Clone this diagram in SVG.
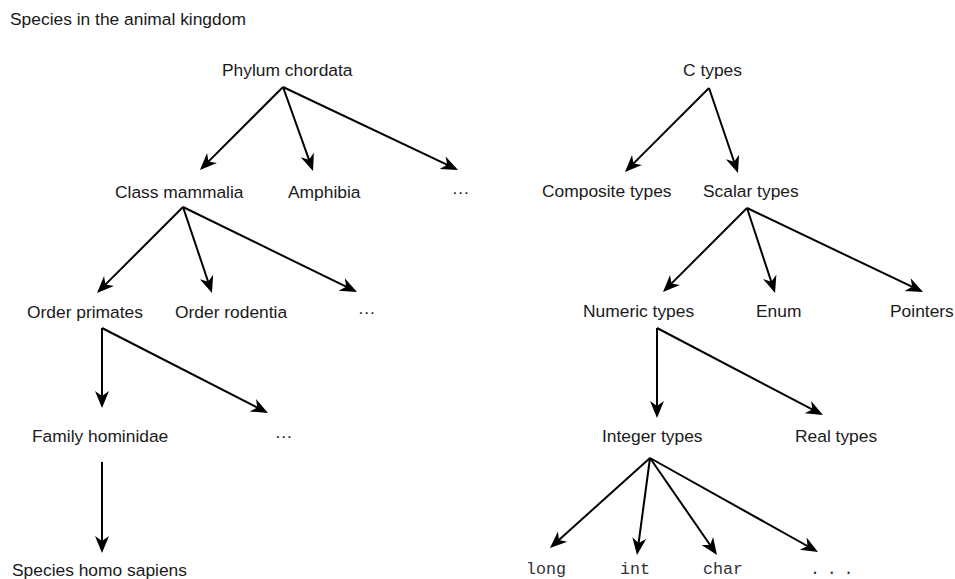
<svg xmlns="http://www.w3.org/2000/svg" width="955" height="579" viewBox="0 0 955 579">
<style>
  text { font-family: "Liberation Sans", Arial, Helvetica, sans-serif; font-size: 17.4px; fill: #1a1a1a; }
  text.mono { font-family: "Liberation Mono", "Courier New", monospace; font-size: 16.7px; fill: #333; }
  .edge { stroke: #000; stroke-width: 2; fill: none; marker-end: url(#ah); }
</style>
<defs>
  <marker id="ah" markerUnits="userSpaceOnUse" viewBox="-15 -8 19 16" refX="0" refY="0" markerWidth="19" markerHeight="16" orient="auto" overflow="visible">
    <path d="M3,0 L-14,-7 L-9,0 L-14,7 Z" fill="#000"/>
  </marker>
</defs>
<rect width="955" height="579" fill="#fff"/>
<text id="title" x="10" y="25">Species in the animal kingdom</text>

<g id="connectors">
  <line class="edge" x1="283" y1="87" x2="202.1" y2="167.9"/>
  <line class="edge" x1="283" y1="87" x2="312.0" y2="168.2"/>
  <line class="edge" x1="283" y1="87" x2="455.3" y2="168.7"/>
  <line class="edge" x1="183" y1="207" x2="99.1" y2="290.9"/>
  <line class="edge" x1="183" y1="207" x2="211.0" y2="290.2"/>
  <line class="edge" x1="183" y1="207" x2="354.3" y2="290.7"/>
  <line class="edge" x1="102" y1="328" x2="102" y2="405"/>
  <line class="edge" x1="102" y1="328" x2="265.3" y2="411.6"/>
  <line class="edge" x1="102" y1="462" x2="102" y2="550"/>

  <line class="edge" x1="709" y1="88" x2="627.1" y2="169.9"/>
  <line class="edge" x1="709" y1="88" x2="737.0" y2="170.2"/>
  <line class="edge" x1="747" y1="208" x2="665.1" y2="289.9"/>
  <line class="edge" x1="747" y1="208" x2="774.1" y2="290.2"/>
  <line class="edge" x1="747" y1="208" x2="920.3" y2="290.7"/>
  <line class="edge" x1="657" y1="328" x2="657" y2="415"/>
  <line class="edge" x1="657" y1="328" x2="820.3" y2="413.6"/>
  <line class="edge" x1="650" y1="458" x2="552.2" y2="546.0"/>
  <line class="edge" x1="650" y1="458" x2="637.4" y2="552.0"/>
  <line class="edge" x1="650" y1="458" x2="715.3" y2="552.5"/>
  <line class="edge" x1="650" y1="458" x2="815.4" y2="550.5"/>
</g>

<g id="phylum-chordata"><text x="222" y="76">Phylum chordata</text></g>
<g id="class-mammalia"><text x="115" y="198">Class mammalia</text></g>
<g id="amphibia"><text x="288" y="198">Amphibia</text></g>
<g id="chordata-more"><text x="452" y="198">···</text></g>
<g id="order-primates"><text x="27" y="318">Order primates</text></g>
<g id="order-rodentia"><text x="175" y="318">Order rodentia</text></g>
<g id="mammalia-more"><text x="358" y="318">···</text></g>
<g id="family-hominidae"><text x="32" y="442">Family hominidae</text></g>
<g id="primates-more"><text x="275" y="442">···</text></g>
<g id="species-homo-sapiens"><text x="12" y="576">Species homo sapiens</text></g>

<g id="c-types"><text x="683" y="76">C types</text></g>
<g id="composite-types"><text x="542" y="197">Composite types</text></g>
<g id="scalar-types"><text x="703" y="197">Scalar types</text></g>
<g id="numeric-types"><text x="583" y="317">Numeric types</text></g>
<g id="enum"><text x="756" y="317">Enum</text></g>
<g id="pointers"><text x="890" y="317">Pointers</text></g>
<g id="integer-types"><text x="602" y="442">Integer types</text></g>
<g id="real-types"><text x="795" y="442">Real types</text></g>
<g id="long"><text class="mono" x="526" y="574">long</text></g>
<g id="int"><text class="mono" x="620" y="574">int</text></g>
<g id="char"><text class="mono" x="703" y="574">char</text></g>
<g id="integer-more"><text class="mono" x="810" y="574" letter-spacing="6.7">...</text></g>
</svg>
